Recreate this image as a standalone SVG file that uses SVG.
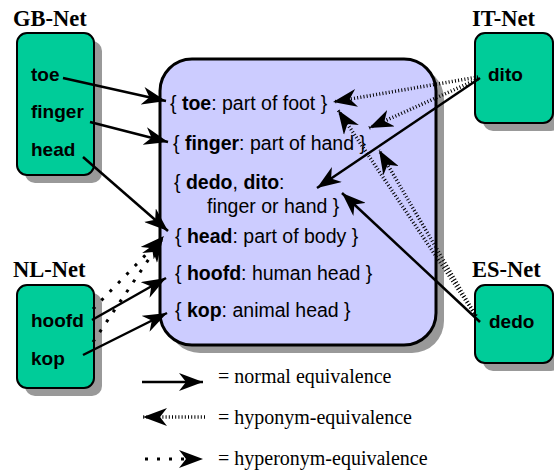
<svg xmlns="http://www.w3.org/2000/svg" width="554" height="473" viewBox="0 0 554 473">
<style>
.shadow{fill:#999999;}
.net{fill:#00cc99;stroke:#000;stroke-width:2;}
.main{fill:#ccccff;stroke:#000;stroke-width:3;}
.lbl{font-family:"Liberation Serif","Times New Roman",serif;font-weight:bold;font-size:22.5px;fill:#000;}
.word{font-family:"Liberation Sans",Arial,sans-serif;font-weight:bold;font-size:19px;fill:#000;}
.syn{font-family:"Liberation Sans",Arial,sans-serif;font-size:19.5px;fill:#000;}
.syn tspan.b{font-weight:bold;}
.leg{font-family:"Liberation Serif","Times New Roman",serif;font-size:20px;fill:#000;}
.solid{fill:none;stroke:#000;stroke-width:2.5;marker-end:url(#ah);}
.hypo{fill:none;stroke:#000;stroke-width:3.5;stroke-dasharray:1 2.2;marker-end:url(#ah);}
.hyper{fill:none;stroke:#000;stroke-width:3;stroke-dasharray:3 9;marker-end:url(#ah);}
</style>
<defs>
<marker id="ah" markerUnits="userSpaceOnUse" viewBox="0 0 26 18" markerWidth="26" markerHeight="18" refX="24" refY="9" orient="auto">
<path d="M24,9 L0,0 L7,9 L0,18 Z" fill="#000"/>
</marker>
</defs>

<g id="gb-net">
<rect class="shadow" x="25" y="41" width="77" height="142" rx="10"/>
<rect class="net" x="17" y="33" width="77" height="142" rx="10"/>
<text class="lbl" x="13" y="26">GB-Net</text>
<text class="word" x="31" y="81">toe</text>
<text class="word" x="31" y="118">finger</text>
<text class="word" x="31" y="156">head</text>
</g>

<g id="nl-net">
<rect class="shadow" x="25" y="293" width="77" height="103" rx="10"/>
<rect class="net" x="17" y="285" width="77" height="103" rx="10"/>
<text class="lbl" x="13" y="277">NL-Net</text>
<text class="word" x="31" y="327">hoofd</text>
<text class="word" x="31" y="365">kop</text>
</g>

<g id="it-net">
<rect class="shadow" x="483" y="41" width="78" height="90" rx="10"/>
<rect class="net" x="475" y="33" width="78" height="90" rx="10"/>
<text class="lbl" x="472" y="26">IT-Net</text>
<text class="word" x="488" y="81">dito</text>
</g>

<g id="es-net">
<rect class="shadow" x="483" y="293" width="78" height="78" rx="10"/>
<rect class="net" x="475" y="285" width="78" height="78" rx="10"/>
<text class="lbl" x="472" y="277">ES-Net</text>
<text class="word" x="489" y="328">dedo</text>
</g>

<g id="ili">
<rect class="shadow" x="168" y="67" width="276" height="286" rx="32"/>
<rect class="main" x="160" y="59" width="276" height="286" rx="32"/>
<text class="syn" x="170" y="110">{ <tspan class="b">toe</tspan>: part of foot }</text>
<text class="syn" x="173" y="150">{ <tspan class="b">finger</tspan>: part of hand }</text>
<text class="syn" x="174" y="189">{ <tspan class="b">dedo</tspan>, <tspan class="b">dito</tspan>:</text>
<text class="syn" x="207" y="213">finger or hand }</text>
<text class="syn" x="175" y="243">{ <tspan class="b">head</tspan>: part of body }</text>
<text class="syn" x="175" y="280">{ <tspan class="b">hoofd</tspan>: human head }</text>
<text class="syn" x="175" y="317">{ <tspan class="b">kop</tspan>: animal head }</text>
</g>

<g id="connectors">
<path class="solid" d="M63,78 L166,101"/>
<path class="solid" d="M90,122 L168,142"/>
<path class="solid" d="M83,157 L168,231"/>
<path class="solid" d="M92,320 L166,278"/>
<path class="solid" d="M83,355 L167,313"/>
<path class="solid" d="M480,78 L317,188"/>
<path class="solid" d="M480,322 L342,193"/>
<path class="hypo" d="M478,77 L333,102"/>
<path class="hypo" d="M478,79 L369,128"/>
<path class="hypo" d="M476,316 L338,110"/>
<path class="hypo" d="M476,316 L379,150"/>
<path class="hyper" d="M93,309 L164,236"/>
<path class="hyper" d="M93,342 L163,238"/>
</g>

<g id="legend">
<path class="solid" d="M142,382 L203,382"/>
<text class="leg" x="218" y="383">= normal equivalence</text>
<path class="hypo" d="M205,417 L143,417"/>
<text class="leg" x="218" y="424">= hyponym-equivalence</text>
<path class="hyper" d="M145,459 L203,459"/>
<text class="leg" x="218" y="465">= hyperonym-equivalence</text>
</g>
</svg>
